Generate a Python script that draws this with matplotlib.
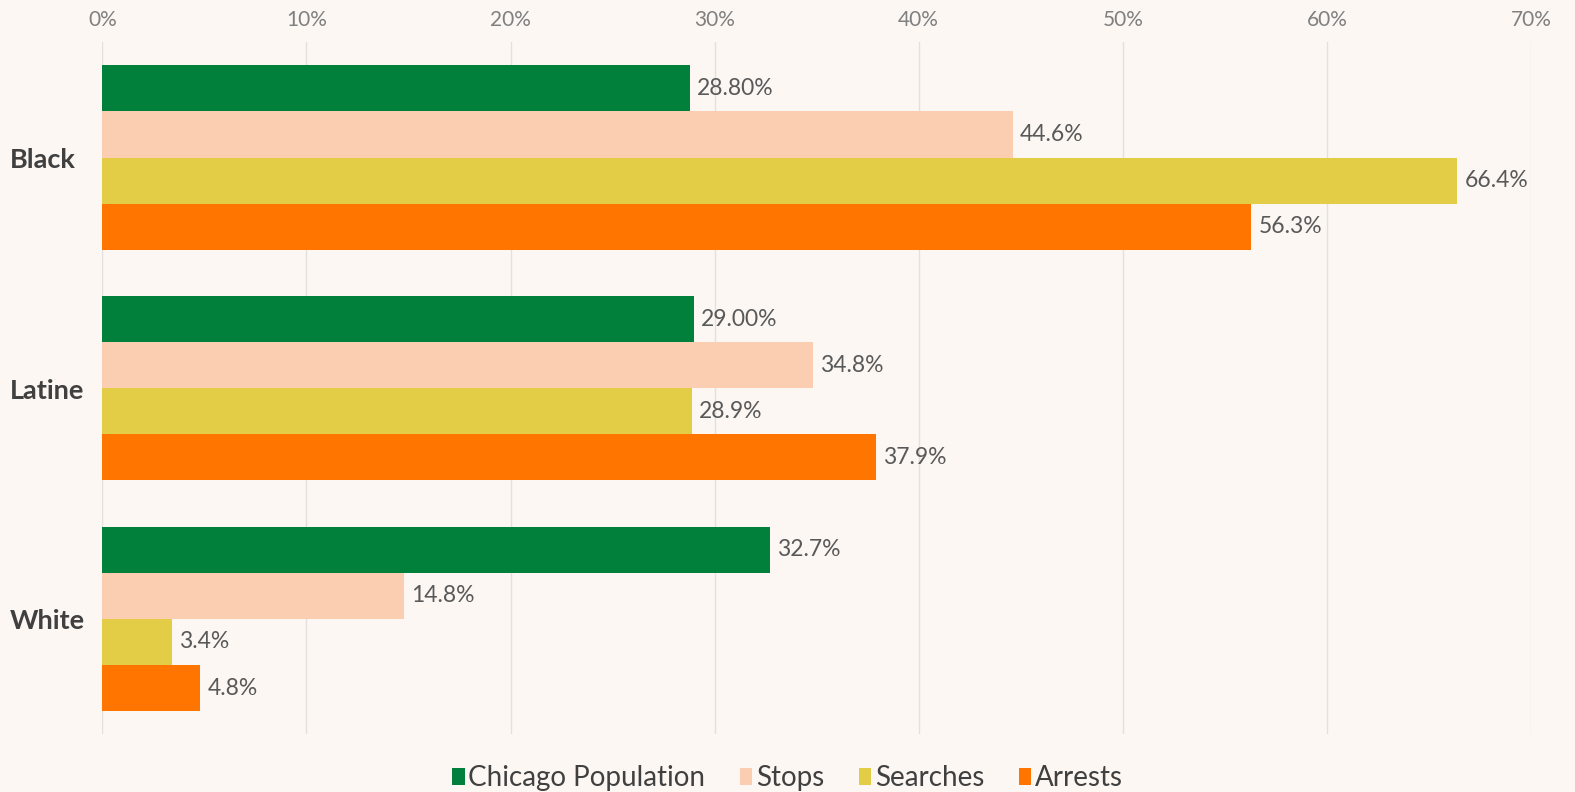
import matplotlib
matplotlib.use("Agg")
import matplotlib.pyplot as plt
import matplotlib.transforms as mtransforms
import numpy as np

categories = ["Black", "Latine", "White"]
series_names = ["Chicago Population", "Stops", "Searches", "Arrests"]
population = [28.8, 29.0, 32.7]
stops = [44.6, 34.8, 14.8]
searches = [66.4, 28.9, 3.4]
arrests = [56.3, 37.9, 4.8]
population_labels = ["28.80%", "29.00%", "32.7%"]
stops_labels = ["44.6%", "34.8%", "14.8%"]
searches_labels = ["66.4%", "28.9%", "3.4%"]
arrests_labels = ["56.3%", "37.9%", "4.8%"]
x_ticks = [0, 10, 20, 30, 40, 50, 60, 70]
x_tick_labels = ["0%", "10%", "20%", "30%", "40%", "50%", "60%", "70%"]

colors = ["#00803A", "#FBCDB1", "#E3CC46", "#FF7500"]
bg = "#FCF7F3"

plt.rcParams['font.family'] = ['Lato', 'DejaVu Sans']

fig = plt.figure(figsize=(15.75, 7.92), dpi=100, facecolor=bg)
ax = fig.add_axes([0.065, 0.073, 0.907, 0.8737])
ax.set_facecolor(bg)

values = [population, stops, searches, arrests]
labels = [population_labels, stops_labels, searches_labels, arrests_labels]
y = np.arange(len(categories))
h = 0.2
offsets = [-0.3, -0.1, 0.1, 0.3]
for vals, labs, col, off, name in zip(values, labels, colors, offsets, series_names):
    bars = ax.barh(y + off, vals, height=h, color=col, label=name, zorder=3)
    for b, lab in zip(bars, labs):
        ax.text(b.get_width() + 0.35, b.get_y() + b.get_height() / 2, lab,
                va='center', ha='left', fontsize=16.5, color='#595959', zorder=4)

ax.set_xlim(0, 70)
ax.set_ylim(2.5, -0.5)
ax.set_xticks(x_ticks)
ax.set_xticklabels(x_tick_labels)
ax.xaxis.tick_top()
ax.tick_params(axis='x', length=0, pad=9, labelsize=15, labelcolor='#808080')
ax.set_yticks([])
ax.grid(axis='x', color='#E3E0DD', linewidth=1, zorder=0)
for s in ax.spines.values():
    s.set_visible(False)

trans = mtransforms.blended_transform_factory(fig.transFigure, ax.transData)
for yi, cat in zip(y, categories):
    ax.text(0.006, yi + 0.01, cat, transform=trans, ha='left', va='center',
            fontsize=19.5, color='#404040', fontweight='bold')

leg = fig.legend(loc='lower center', bbox_to_anchor=(0.5, -0.02), ncol=4, frameon=False,
                 fontsize=20, handlelength=0.45, handleheight=0.6, handletextpad=0.12,
                 columnspacing=1.25, labelcolor='#404040', borderaxespad=0.2)

fig.savefig("out.png", dpi=100, facecolor=bg)
